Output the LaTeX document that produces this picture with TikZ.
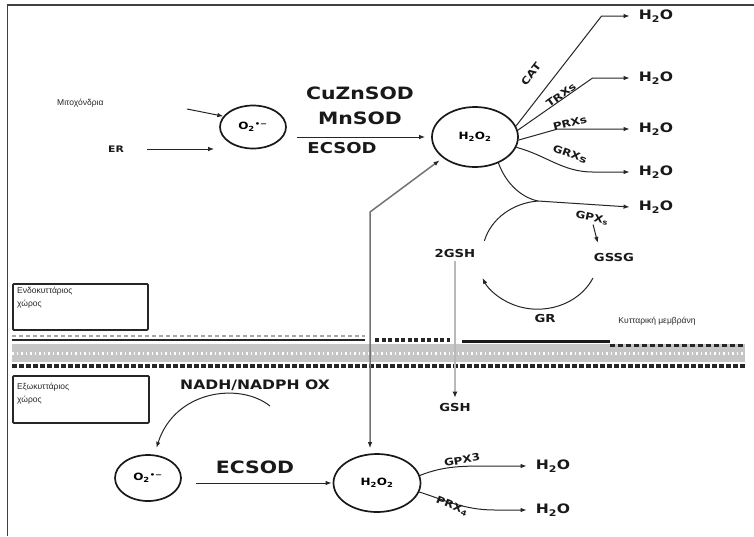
\documentclass[tikz,border=0pt]{standalone}
\usepackage{fontspec}
\setmainfont{DejaVu Sans}
\newfontfamily\wb[FakeStretch=1.2]{DejaVu Sans}
\newfontfamily\gr{Liberation Sans}
\usetikzlibrary{arrows.meta,shapes.geometric,calc}
\tikzset{
  arr/.style={draw=black!85, line width=1pt, -{Latex[length=6pt,width=4.5pt]}},
  ell/.style={ellipse, draw=black!90, line width=1.7pt, inner sep=0pt},
  enz/.style={font=\wb\bfseries\fontsize{#1}{#1}\selectfont, inner sep=1pt, text=black!90},
  enz/.default=11,
  water/.style={font=\wb\bfseries\fontsize{13}{13}\selectfont, inner sep=1pt, text=black!90},
  grtxt/.style={font=\gr\fontsize{8.5}{13}\selectfont, align=left, inner sep=0pt, text=black!85},
  sidebox/.style={draw=black!85, line width=1.8pt, minimum width=135pt, minimum height=46pt, anchor=north west, inner sep=0pt, rounded corners=1pt},
  vlink/.style={draw=black!55, line width=1.5pt, {Latex[length=6pt,width=4.5pt,color=black!85]}-{Latex[length=6pt,width=4.5pt,color=black!85]}},
  glink/.style={draw=gray!55, line width=2.5pt, -{Latex[length=6pt,width=5pt,color=black!85]}},
}
\begin{document}
\begin{tikzpicture}[x=1pt,y=-1pt]
\useasboundingbox (0,0) rectangle (754,536);
\fill[white] (0,0) rectangle (754,536);
% frame
\draw[black!75, line width=1.5pt] (7.5,536) -- (7.5,5) -- (754,5);

% ---------- membrane ----------
\fill[gray!45] (12,344) rectangle (745,362);
\draw[white, line width=3pt, dash pattern=on 1.5pt off 3pt] (12,353) -- (745,353);
\draw[gray!70, line width=1.2pt, dash pattern=on 4pt off 3pt] (12,336) -- (365,336);
\draw[black!85, line width=2.5pt] (12,340) -- (365,340);
\draw[black!85, line width=4pt, dash pattern=on 4pt off 2.5pt] (375,340) -- (450,340);
\draw[black!90, line width=3pt] (462,341) -- (610,341);
\draw[black!85, line width=3pt, dash pattern=on 5pt off 3pt] (610,345) -- (745,345);
\draw[black!85, line width=3.5pt, dash pattern=on 5pt off 2pt] (12,366) -- (745,366);

% ---------- side boxes and labels ----------
\node[sidebox] (box1) at (12,283) {};
\node[grtxt, anchor=north west] (t1) at ([shift={(5,4)}]box1.north west) {Ενδοκυττάριος\\χώρος};
\node[sidebox, minimum width=136pt, minimum height=47pt] (box2) at (12,375) {};
\node[grtxt, anchor=north west] (t2) at ([shift={(5,8)}]box2.north west) {Εξωκυττάριος\\χώρος};
\node[grtxt] (memb) at (657,321) {Κυτταρική μεμβράνη};

% ---------- top: O2 -> H2O2 ----------
\node[grtxt, anchor=west] (mito) at (57,103) {Μιτοχόνδρια};
\coordinate (mitoS) at (187,109);
\node[enz=9] (er) at (116,149) {ER};
\node[ell, minimum width=66pt, minimum height=43pt, font=\wb\bfseries\fontsize{10}{10}\selectfont] (o2) at (253,127) {O\textsubscript{2}\textsuperscript{•−}};
\node[ell, minimum width=86pt, minimum height=60pt, font=\wb\bfseries\fontsize{10}{10}\selectfont] (h2o2) at (475,137) {H\textsubscript{2}O\textsubscript{2}};

\draw[arr] (mitoS) -- (o2.160);
\draw[arr, shorten <=22pt, shorten >=5pt] (er.east) -- (er.east -| o2.west);
\draw[arr, shorten <=10pt, shorten >=6pt] (o2.east |- h2o2.west) -- (h2o2.west);

\node[enz=17] (cuzn) at (360,93) {CuZnSOD};
\node[enz=17] (mn) at (360,118) {MnSOD};
\node[enz=15] (ec1) at (342,148) {ECSOD};

% ---------- branches from H2O2 ----------
\node[water] (w1) at (656,16) {H\textsubscript{2}O};
\node[water] (w2) at (656,78) {H\textsubscript{2}O};
\node[water] (w3) at (656,129) {H\textsubscript{2}O};
\node[water] (w4) at (656,172) {H\textsubscript{2}O};
\node[water] (w5) at (656,207) {H\textsubscript{2}O};

\draw[arr] (h2o2.15) -- ([xshift=-36pt]w1.west) -- ([xshift=-8pt]w1.west);
\draw[arr] (h2o2.9) -- ([xshift=-45pt]w2.west) -- ([xshift=-8pt]w2.west);
\draw[arr] (h2o2.-4) -- ([xshift=-80pt]w3.west) -- ([xshift=-8pt]w3.west);
\draw[arr] (h2o2.-14) .. controls +(30,8) and +(-30,0) .. ([xshift=-45pt]w4.west) -- ([xshift=-8pt]w4.west);
\coordinate (gj) at (538,201);
\draw[arr] (h2o2.-48) .. controls +(8,22) and +(-15,-3) .. (gj) -- ([xshift=-8pt]w5.west);

\node[enz=10, rotate=52] (cat) at (531,74) {CAT};
\node[enz=10, rotate=36] (trx) at (561,95) {TRXs};
\node[enz=10, rotate=14] (prx) at (570,123) {PRXs};
\node[enz=10, rotate=-20] (grx) at (570,154) {GRXs};
\node[enz=10, rotate=-12] (gpx) at (592,218) {GPX\textsubscript{s}};

% ---------- glutathione cycle ----------
\node[enz=11] (gsh2) at (455,253) {2GSH};
\node[enz=11] (gssg) at (614,257) {GSSG};
\node[enz=11] (gr) at (545,318) {GR};
\draw[draw=black!85, line width=1pt] (gj) arc[start angle=-95, end angle=-165, x radius=61, y radius=54];
\coordinate (gssgB) at (593,278);
\draw[arr] (gssgB) arc[start angle=25, end angle=155, x radius=61, y radius=54];
\draw[arr, shorten <=1pt, shorten >=9pt] ([xshift=2pt]gpx.south) -- ([xshift=-14pt]gssg.north);

% ---------- GSH export ----------
\node[enz=11] (gsh) at (455,407) {GSH};
\draw[glink, shorten <=3pt, shorten >=4pt] (gsh2.south) -- (gsh.north);

% ---------- bottom ----------
\node[enz=13] (nadh) at (255,385) {NADH/NADPH OX};
\coordinate (nadhS) at (270,406);
\node[ell, minimum width=66pt, minimum height=46pt, font=\wb\bfseries\fontsize{10}{10}\selectfont] (o2b) at (148,478) {O\textsubscript{2}\textsuperscript{•−}};
\node[ell, minimum width=87pt, minimum height=58pt, font=\wb\bfseries\fontsize{10}{10}\selectfont] (h2o2b) at (377,483) {H\textsubscript{2}O\textsubscript{2}};
\draw[arr, shorten >=7pt] (nadhS) .. controls (240,382) and (175,390) .. (o2b.75);
\draw[arr, shorten <=14pt, shorten >=1pt] (o2b.east |- h2o2b.west) -- (h2o2b.west);
\node[enz=17] (ec2) at (255,467) {ECSOD};

\coordinate (kink) at (370,212);
\draw[vlink, shorten <=4pt, shorten >=5pt] (h2o2.213) -- (kink) -- (kink |- h2o2b.north);

\node[water] (w6) at (553,466) {H\textsubscript{2}O};
\node[water] (w7) at (553,510) {H\textsubscript{2}O};
\draw[arr] (h2o2b.10) .. controls +(25,-10) and +(-30,0) .. ([xshift=-40pt]w6.west) -- ([xshift=-8pt]w6.west);
\draw[arr] (h2o2b.-12) .. controls +(25,8) and +(-30,0) .. ([xshift=-40pt]w7.west) -- ([xshift=-8pt]w7.west);
\node[enz=10, rotate=10] (gpx3) at (462,460) {GPX3};
\node[enz=10, rotate=-22] (prx4) at (452,506) {PRX\textsubscript{4}};
\end{tikzpicture}
\end{document}
